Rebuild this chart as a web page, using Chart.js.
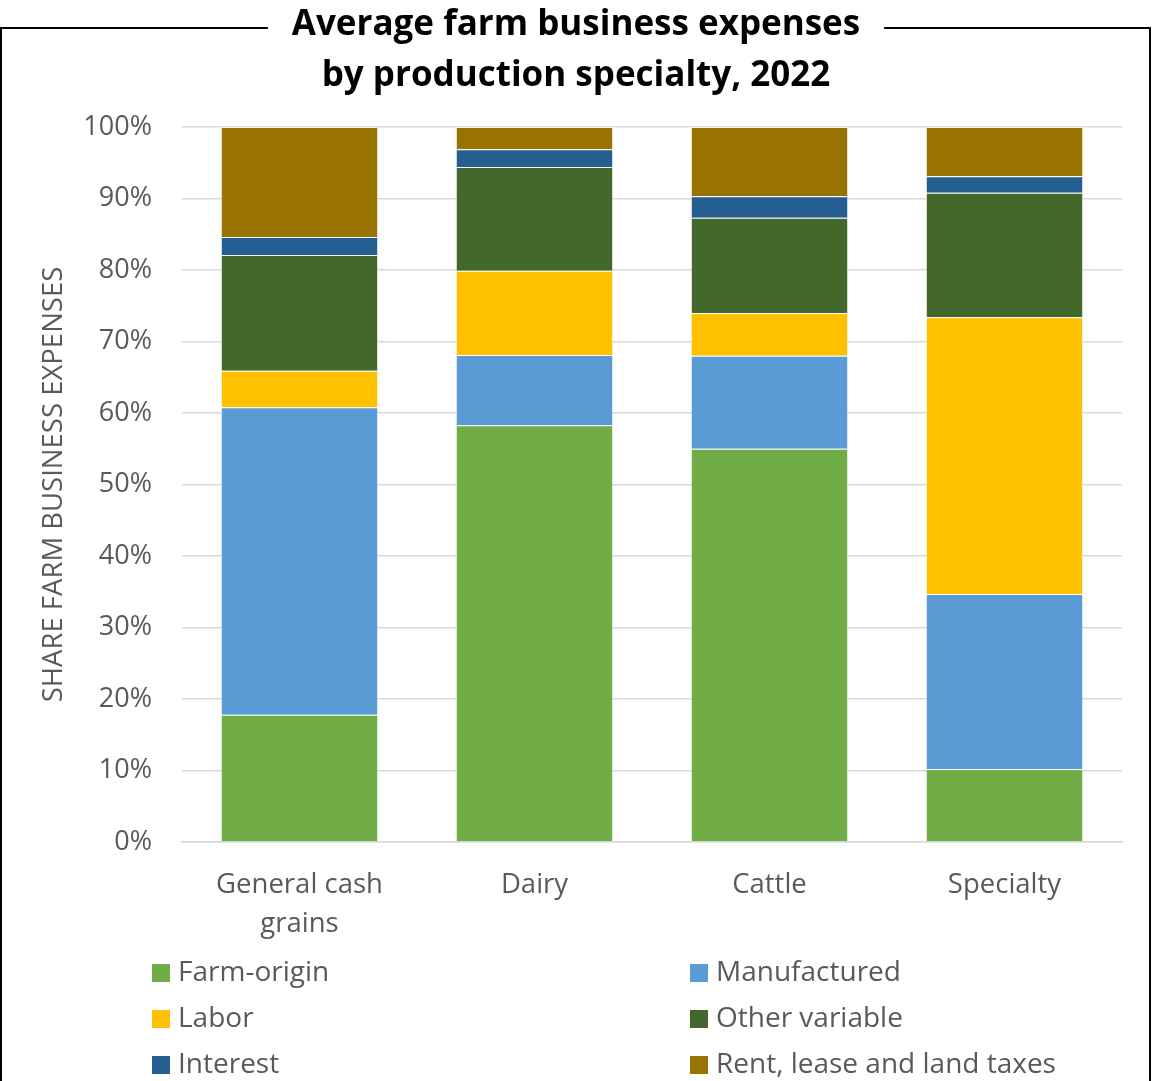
<!DOCTYPE html>
<html>
<head>
<meta charset="utf-8">
<script src="https://cdn.jsdelivr.net/npm/chart.js@4.4.1/dist/chart.umd.min.js"></script>
<style>
  html, body { margin: 0; padding: 0; background: #ffffff; }
  #wrap { position: relative; width: 1152px; height: 1081px; }
</style>
</head>
<body>
<div id="wrap"><canvas id="c" width="1152" height="1081"></canvas></div>
<script>
// ---- Data ----
const categories = [['General cash', 'grains'], 'Dairy', 'Cattle', 'Specialty'];
const seriesNames = ['Farm-origin', 'Manufactured', 'Labor', 'Other variable', 'Interest', 'Rent, lease and land taxes'];
const farmOrigin   = [17.8, 58.3, 55.0, 10.2];
const manufactured = [43.0,  9.8, 13.0, 24.5];
const labor        = [ 5.1, 11.8,  6.0, 38.7];
const otherVar     = [16.2, 14.5, 13.3, 17.4];
const interest     = [ 2.5,  2.5,  3.0,  2.3];
const rentLease    = [15.4,  3.1,  9.7,  6.9];
const yTicks = [0, 10, 20, 30, 40, 50, 60, 70, 80, 90, 100];
const titleLines = ['Average farm business expenses', 'by production specialty, 2022'];
const yAxisTitle = 'SHARE FARM BUSINESS EXPENSES';

const seriesValues = [farmOrigin, manufactured, labor, otherVar, interest, rentLease];
const seriesColors = ['#70AD47', '#5B9BD5', '#FFC000', '#43682B', '#255E91', '#997300'];

const FONT = '"Open Sans", sans-serif';
const GREY = '#595959';
const TITLE_SIZE = 35;

const framePlugin = {
  id: 'frame',
  afterDraw(chart) {
    const ctx = chart.ctx;
    ctx.save();
    ctx.font = 'bold ' + TITLE_SIZE + 'px ' + FONT;
    const w = ctx.measureText(titleLines[0]).width;
    const cx = chart.width / 2;
    const gap = 24;
    const y = 28;
    ctx.strokeStyle = '#000000';
    ctx.lineWidth = 2;
    ctx.beginPath();
    ctx.moveTo(1, chart.height);
    ctx.lineTo(1, y);
    ctx.lineTo(cx - w / 2 - gap, y);
    ctx.moveTo(cx + w / 2 + gap, y);
    ctx.lineTo(chart.width - 2, y);
    ctx.lineTo(chart.width - 2, chart.height);
    ctx.stroke();
    ctx.restore();
  }
};

const legendPlugin = {
  id: 'colLegend',
  afterDraw(chart) {
    const ctx = chart.ctx;
    const colX = [152, 690];
    const rowY = [973, 1019, 1065];
    ctx.save();
    ctx.font = '28px ' + FONT;
    ctx.textBaseline = 'middle';
    chart.data.datasets.forEach((ds, i) => {
      const x = colX[i % 2];
      const y = rowY[Math.floor(i / 2)];
      ctx.fillStyle = ds.backgroundColor;
      ctx.fillRect(x, y - 9, 18, 18);
      ctx.fillStyle = GREY;
      ctx.fillText(ds.label, x + 26, y);
    });
    ctx.restore();
  }
};

const datasets = seriesNames.map((name, i) => ({
  label: name,
  data: seriesValues[i],
  backgroundColor: seriesColors[i],
  borderColor: 'rgba(255,255,255,0.35)',
  borderWidth: 1,
  barPercentage: 0.67,
  categoryPercentage: 1.0
}));

new Chart(document.getElementById('c'), {
  type: 'bar',
  data: { labels: categories, datasets: datasets },
  options: {
    responsive: false,
    animation: false,
    layout: { padding: { left: 0, right: 0, top: 0, bottom: 129 } },
    plugins: {
      legend: { display: false },
      tooltip: { enabled: false },
      title: {
        display: true,
        text: titleLines,
        color: '#000000',
        font: { family: FONT, size: TITLE_SIZE, weight: 'bold', lineHeight: 51 / TITLE_SIZE },
        padding: { top: 0, bottom: 25 }
      }
    },
    scales: {
      x: {
        stacked: true,
        grid: { display: false, drawTicks: false },
        border: { display: true, color: '#d9d9d9', width: 1.5 },
        ticks: { color: GREY, font: { family: FONT, size: 27.5, lineHeight: 1.42 }, padding: 24, maxRotation: 0, autoSkip: false },
        afterFit(scale) { scale.height = 110; }
      },
      y: {
        stacked: true,
        min: 0,
        max: 100,
        afterBuildTicks(scale) { scale.ticks = yTicks.map(v => ({ value: v })); },
        grid: { color: '#d9d9d9', lineWidth: 1.5, drawTicks: false },
        border: { display: false },
        ticks: { color: GREY, font: { family: FONT, size: 27 }, padding: 30, callback: v => v + '%' },
        title: { display: true, text: yAxisTitle, color: GREY, font: { family: FONT, size: 27.5 }, padding: { top: 38, bottom: 0 } },
        afterFit(scale) { scale.width = 182; }
      },
      yRight: {
        position: 'right',
        display: true,
        grid: { display: false, drawTicks: false },
        border: { display: false },
        ticks: { display: false },
        afterFit(scale) { scale.width = 30; }
      }
    }
  },
  plugins: [framePlugin, legendPlugin]
});
</script>
</body>
</html>
